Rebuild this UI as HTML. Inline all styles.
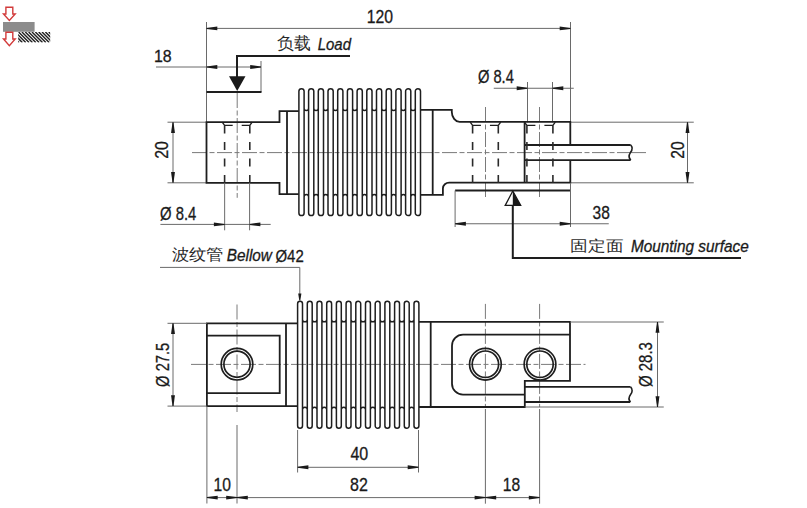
<!DOCTYPE html><html><head><meta charset="utf-8"><style>html,body{margin:0;padding:0;background:#fff;width:807px;height:508px;overflow:hidden}svg{display:block}text{font-family:"Liberation Sans",sans-serif}</style></head><body>
<svg width="807" height="508" viewBox="0 0 807 508">
<rect width="807" height="508" fill="#fff"/>
<rect x="3" y="22" width="31.6" height="9.8" fill="#8c8c8c"/>
<path d="M5.9,7.2 H12.8 V14 H15.2 L9.35,20.5 L3.5,14 H5.9 Z" fill="none" stroke="#d23a3a" stroke-width="1.4"/>
<path d="M5.9,32.2 H12.8 V39 H15.2 L9.35,45.6 L3.5,39 H5.9 Z" fill="none" stroke="#d23a3a" stroke-width="1.4"/>
<defs><clipPath id="hc"><rect x="18.2" y="32" width="32" height="10.5"/></clipPath></defs>
<path d="M8.55,32 L19.05,42.5 M11.900000000000002,32 L22.400000000000002,42.5 M15.250000000000002,32 L25.75,42.5 M18.6,32 L29.1,42.5 M21.950000000000003,32 L32.45,42.5 M25.3,32 L35.8,42.5 M28.650000000000002,32 L39.150000000000006,42.5 M32.0,32 L42.5,42.5 M35.35,32 L45.85,42.5 M38.7,32 L49.2,42.5 M42.05,32 L52.55,42.5 M45.400000000000006,32 L55.900000000000006,42.5 M48.75,32 L59.25,42.5 M52.1,32 L62.6,42.5 M55.45,32 L65.95,42.5 M58.800000000000004,32 L69.30000000000001,42.5 " stroke="#222" stroke-width="1.45" clip-path="url(#hc)"/>
<line x1="206.5" y1="22" x2="206.5" y2="122.2" stroke="#6a6a6a" stroke-width="1.0" />
<line x1="570.5" y1="22" x2="570.5" y2="122.2" stroke="#6a6a6a" stroke-width="1.0" />
<line x1="206.5" y1="28.4" x2="570.5" y2="28.4" stroke="#6a6a6a" stroke-width="1.0" />
<polygon points="206.5,27.9 217.3,26.45 217.3,30.349999999999998 206.5,28.9" fill="#1a1a1a"/>
<polygon points="570.5,27.9 559.7,26.45 559.7,30.349999999999998 570.5,28.9" fill="#1a1a1a"/>
<text x="366.80" y="23.42" font-size="17.80" textLength="26.32" lengthAdjust="spacingAndGlyphs" fill="#1a1a1a" stroke="#1a1a1a" stroke-width="0.3">120</text>
<line x1="156" y1="67" x2="261" y2="67" stroke="#6a6a6a" stroke-width="1.0" />
<line x1="261" y1="61" x2="261" y2="92" stroke="#6a6a6a" stroke-width="1.0" />
<polygon points="206.5,66.5 217.3,65.05 217.3,68.95 206.5,67.5" fill="#1a1a1a"/>
<polygon points="261,66.5 250.2,65.05 250.2,68.95 261,67.5" fill="#1a1a1a"/>
<text x="153.99" y="61.63" font-size="17.37" textLength="17.70" lengthAdjust="spacingAndGlyphs" fill="#1a1a1a" stroke="#1a1a1a" stroke-width="0.3">18</text>
<path d="M350,56 H237 V77" stroke="#1e1e1e" stroke-width="2" fill="none" />
<polygon points="229,76.2 245.5,76.2 237.2,91" fill="#1a1a1a"/>
<path d="M206.5,92 H261.5" stroke="#1e1e1e" stroke-width="2" fill="none" />
<text x="277.26" y="48.63" font-size="16.84" textLength="33.71" lengthAdjust="spacingAndGlyphs" fill="#2a2a2a" stroke="#2a2a2a" stroke-width="0">负载</text>
<text x="317.74" y="49.53" font-size="16.73" textLength="33.28" lengthAdjust="spacingAndGlyphs" font-style="italic" fill="#1a1a1a" stroke="#1a1a1a" stroke-width="0.3">Load</text>
<line x1="237.2" y1="93" x2="237.2" y2="197.8" stroke="#7a7a7a" stroke-width="1.0" stroke-dasharray="15 2.5 5 2.5" />
<line x1="485.5" y1="107" x2="485.5" y2="197.6" stroke="#7a7a7a" stroke-width="1.0" stroke-dasharray="15 2.5 5 2.5" />
<line x1="539.5" y1="107" x2="539.5" y2="197.6" stroke="#7a7a7a" stroke-width="1.0" stroke-dasharray="15 2.5 5 2.5" />
<line x1="192" y1="152.6" x2="631" y2="152.6" stroke="#7a7a7a" stroke-width="1.0" stroke-dasharray="15 2.5 5 2.5" />
<line x1="631" y1="152.6" x2="646" y2="152.6" stroke="#7a7a7a" stroke-width="1.0" />
<line x1="493.75" y1="88.25" x2="573.75" y2="88.25" stroke="#6a6a6a" stroke-width="1.0" />
<line x1="527.5" y1="82" x2="527.5" y2="122.2" stroke="#6a6a6a" stroke-width="1.0" />
<line x1="552.5" y1="82" x2="552.5" y2="122.2" stroke="#6a6a6a" stroke-width="1.0" />
<polygon points="527.5,87.75 516.7,86.3 516.7,90.2 527.5,88.75" fill="#1a1a1a"/>
<polygon points="552.5,87.75 563.3,86.3 563.3,90.2 552.5,88.75" fill="#1a1a1a"/>
<text x="477.89" y="83.23" font-size="18.06" textLength="35.94" lengthAdjust="spacingAndGlyphs" fill="#1a1a1a" stroke="#1a1a1a" stroke-width="0.3">Ø 8.4</text>
<line x1="167.5" y1="122.2" x2="206.5" y2="122.2" stroke="#6a6a6a" stroke-width="1.0" />
<line x1="167.5" y1="182.8" x2="206.5" y2="182.8" stroke="#6a6a6a" stroke-width="1.0" />
<line x1="173" y1="122.2" x2="173" y2="182.8" stroke="#6a6a6a" stroke-width="1.0" />
<polygon points="172.5,122.2 171.05,133.0 174.95,133.0 173.5,122.2" fill="#1a1a1a"/>
<polygon points="172.5,182.8 171.05,172.0 174.95,172.0 173.5,182.8" fill="#1a1a1a"/>
<text x="-0.79" y="0" font-size="18.36" textLength="17.61" lengthAdjust="spacingAndGlyphs" fill="#1a1a1a" stroke="#1a1a1a" stroke-width="0.3" transform="translate(167.52,158.00) rotate(-90)">20</text>
<line x1="570.5" y1="122.2" x2="693.75" y2="122.2" stroke="#6a6a6a" stroke-width="1.0" />
<line x1="570.5" y1="182.8" x2="693.75" y2="182.8" stroke="#6a6a6a" stroke-width="1.0" />
<line x1="687.5" y1="122.2" x2="687.5" y2="182.8" stroke="#6a6a6a" stroke-width="1.0" />
<polygon points="687.0,122.2 685.55,133.0 689.45,133.0 688.0,122.2" fill="#1a1a1a"/>
<polygon points="687.0,182.8 685.55,172.0 689.45,172.0 688.0,182.8" fill="#1a1a1a"/>
<text x="-0.78" y="0" font-size="18.08" textLength="17.29" lengthAdjust="spacingAndGlyphs" fill="#1a1a1a" stroke="#1a1a1a" stroke-width="0.3" transform="translate(683.82,158.00) rotate(-90)">20</text>
<path d="M298.8,111.2 H279.5 V122.2 H206.5 V182.8 H279.5 V194.2 H298.8" stroke="#1e1e1e" stroke-width="1.8" fill="none" />
<path d="M287,111.2 V194.2" stroke="#1e1e1e" stroke-width="1.8" fill="none" />
<path d="M420.5,109.8 H451.8 V112 A8,10 0 0 0 459.6,121.9 H570.3 V145 M570.3,160.1 V182.6 H449.2 A6.3,6 0 0 0 442.9,188.4 V194.9 H420.4" stroke="#1e1e1e" stroke-width="1.8" fill="none" />
<path d="M432.7,109.7 V194.9" stroke="#1e1e1e" stroke-width="1.8" fill="none" />
<path d="M524.6,122.2 V182.8" stroke="#1e1e1e" stroke-width="1.8" fill="none" />
<path d="M524.6,145 H630.7 M524.6,160.1 H630.5" stroke="#1e1e1e" stroke-width="1.8" fill="none" />
<path d="M630.7,145 C633.2,147.5 632,150.5 630.4,152.6 C628.8,155 628.8,158 630.8,160.1" stroke="#1e1e1e" stroke-width="1.6" fill="none" />
<path d="M298.90,213.00 V91.30 A2.6,2.6 0 0 1 304.10,91.30 V213.00 A2.6,2.6 0 0 1 298.90,213.00 Z M304.10,108.15 A2.25,2.25 0 0 0 308.60,108.15 M304.10,196.85 A2.25,2.25 0 0 1 308.60,196.85 M308.60,213.00 V91.30 A2.6,2.6 0 0 1 313.80,91.30 V213.00 A2.6,2.6 0 0 1 308.60,213.00 Z M313.80,108.15 A2.25,2.25 0 0 0 318.30,108.15 M313.80,196.85 A2.25,2.25 0 0 1 318.30,196.85 M318.30,213.00 V91.30 A2.6,2.6 0 0 1 323.50,91.30 V213.00 A2.6,2.6 0 0 1 318.30,213.00 Z M323.50,108.15 A2.25,2.25 0 0 0 328.00,108.15 M323.50,196.85 A2.25,2.25 0 0 1 328.00,196.85 M328.00,213.00 V91.30 A2.6,2.6 0 0 1 333.20,91.30 V213.00 A2.6,2.6 0 0 1 328.00,213.00 Z M333.20,108.15 A2.25,2.25 0 0 0 337.70,108.15 M333.20,196.85 A2.25,2.25 0 0 1 337.70,196.85 M337.70,213.00 V91.30 A2.6,2.6 0 0 1 342.90,91.30 V213.00 A2.6,2.6 0 0 1 337.70,213.00 Z M342.90,108.15 A2.25,2.25 0 0 0 347.40,108.15 M342.90,196.85 A2.25,2.25 0 0 1 347.40,196.85 M347.40,213.00 V91.30 A2.6,2.6 0 0 1 352.60,91.30 V213.00 A2.6,2.6 0 0 1 347.40,213.00 Z M352.60,108.15 A2.25,2.25 0 0 0 357.10,108.15 M352.60,196.85 A2.25,2.25 0 0 1 357.10,196.85 M357.10,213.00 V91.30 A2.6,2.6 0 0 1 362.30,91.30 V213.00 A2.6,2.6 0 0 1 357.10,213.00 Z M362.30,108.15 A2.25,2.25 0 0 0 366.80,108.15 M362.30,196.85 A2.25,2.25 0 0 1 366.80,196.85 M366.80,213.00 V91.30 A2.6,2.6 0 0 1 372.00,91.30 V213.00 A2.6,2.6 0 0 1 366.80,213.00 Z M372.00,108.15 A2.25,2.25 0 0 0 376.50,108.15 M372.00,196.85 A2.25,2.25 0 0 1 376.50,196.85 M376.50,213.00 V91.30 A2.6,2.6 0 0 1 381.70,91.30 V213.00 A2.6,2.6 0 0 1 376.50,213.00 Z M381.70,108.15 A2.25,2.25 0 0 0 386.20,108.15 M381.70,196.85 A2.25,2.25 0 0 1 386.20,196.85 M386.20,213.00 V91.30 A2.6,2.6 0 0 1 391.40,91.30 V213.00 A2.6,2.6 0 0 1 386.20,213.00 Z M391.40,108.15 A2.25,2.25 0 0 0 395.90,108.15 M391.40,196.85 A2.25,2.25 0 0 1 395.90,196.85 M395.90,213.00 V91.30 A2.6,2.6 0 0 1 401.10,91.30 V213.00 A2.6,2.6 0 0 1 395.90,213.00 Z M401.10,108.15 A2.25,2.25 0 0 0 405.60,108.15 M401.10,196.85 A2.25,2.25 0 0 1 405.60,196.85 M405.60,213.00 V91.30 A2.6,2.6 0 0 1 410.80,91.30 V213.00 A2.6,2.6 0 0 1 405.60,213.00 Z M410.80,108.15 A2.25,2.25 0 0 0 415.30,108.15 M410.80,196.85 A2.25,2.25 0 0 1 415.30,196.85 M415.30,213.00 V91.30 A2.6,2.6 0 0 1 420.50,91.30 V213.00 A2.6,2.6 0 0 1 415.30,213.00 Z " stroke="#1e1e1e" stroke-width="1.5" fill="none" />
<path d="M222.2,122.2 L224.6,125.4 H232.7 M241.7,125.4 H249.8 L252.20000000000002,122.2" stroke="#1e1e1e" stroke-width="1.4" fill="none" />
<line x1="224.6" y1="125.4" x2="224.6" y2="183" stroke="#2a2a2a" stroke-width="1.6" stroke-dasharray="8 8.5" />
<line x1="249.8" y1="125.4" x2="249.8" y2="183" stroke="#2a2a2a" stroke-width="1.6" stroke-dasharray="8 8.5" />
<path d="M470.20000000000005,122.2 L472.6,125.4 H480.95000000000005 M489.95000000000005,125.4 H498.3 L500.7,122.2" stroke="#1e1e1e" stroke-width="1.4" fill="none" />
<line x1="472.6" y1="125.4" x2="472.6" y2="183" stroke="#2a2a2a" stroke-width="1.6" stroke-dasharray="8 8.5" />
<line x1="498.3" y1="125.4" x2="498.3" y2="183" stroke="#2a2a2a" stroke-width="1.6" stroke-dasharray="8 8.5" />
<path d="M524.5,122.2 L526.9,125.4 H535.4 M544.4,125.4 H552.9 L555.3,122.2" stroke="#1e1e1e" stroke-width="1.4" fill="none" />
<line x1="526.9" y1="125.4" x2="526.9" y2="183" stroke="#2a2a2a" stroke-width="1.6" stroke-dasharray="8 8.5" />
<line x1="552.9" y1="125.4" x2="552.9" y2="183" stroke="#2a2a2a" stroke-width="1.6" stroke-dasharray="8 8.5" />
<line x1="160.4" y1="224.4" x2="270.7" y2="224.4" stroke="#6a6a6a" stroke-width="1.0" />
<line x1="224.65" y1="183" x2="224.65" y2="230.3" stroke="#6a6a6a" stroke-width="1.0" />
<line x1="249.6" y1="183" x2="249.6" y2="230.3" stroke="#6a6a6a" stroke-width="1.0" />
<polygon points="224.65,223.9 213.85,222.45000000000002 213.85,226.35 224.65,224.9" fill="#1a1a1a"/>
<polygon points="249.6,223.9 260.4,222.45000000000002 260.4,226.35 249.6,224.9" fill="#1a1a1a"/>
<text x="160.08" y="220.32" font-size="18.60" textLength="36.25" lengthAdjust="spacingAndGlyphs" fill="#1a1a1a" stroke="#1a1a1a" stroke-width="0.3">Ø 8.4</text>
<path d="M455.1,190.5 H570.5" stroke="#1e1e1e" stroke-width="2" fill="none" />
<line x1="455.1" y1="190.5" x2="455.1" y2="227" stroke="#6a6a6a" stroke-width="1.0" />
<line x1="570.5" y1="182.8" x2="570.5" y2="227" stroke="#6a6a6a" stroke-width="1.0" />
<line x1="455.1" y1="223.75" x2="608.75" y2="223.75" stroke="#6a6a6a" stroke-width="1.0" />
<polygon points="455.1,223.25 465.90000000000003,221.8 465.90000000000003,225.7 455.1,224.25" fill="#1a1a1a"/>
<polygon points="570.5,223.25 559.7,221.8 559.7,225.7 570.5,224.25" fill="#1a1a1a"/>
<text x="592.51" y="219.22" font-size="17.94" textLength="17.26" lengthAdjust="spacingAndGlyphs" fill="#1a1a1a" stroke="#1a1a1a" stroke-width="0.3">38</text>
<polygon points="512.8,191 505.2,205.4 520.7,205.4" fill="none" stroke="#1a1a1a" stroke-width="1.3"/>
<polygon points="512.8,191 512.8,205.4 520.7,205.4" fill="#1a1a1a"/>
<path d="M512.8,205.4 V258 H741" stroke="#1e1e1e" stroke-width="2" fill="none" />
<text x="570.22" y="251.44" font-size="14.94" textLength="53.02" lengthAdjust="spacingAndGlyphs" fill="#2a2a2a" stroke="#2a2a2a" stroke-width="0">固定面</text>
<text x="630.92" y="252.16" font-size="16.08" textLength="117.84" lengthAdjust="spacingAndGlyphs" font-style="italic" fill="#1a1a1a" stroke="#1a1a1a" stroke-width="0.3">Mounting surface</text>
<text x="171.54" y="260.23" font-size="16.35" textLength="51.96" lengthAdjust="spacingAndGlyphs" fill="#2a2a2a" stroke="#2a2a2a" stroke-width="0">波纹管</text>
<text x="226.72" y="261.14" font-size="15.78" textLength="45.24" lengthAdjust="spacingAndGlyphs" font-style="italic" fill="#1a1a1a" stroke="#1a1a1a" stroke-width="0.3">Bellow</text>
<text x="275.48" y="261.75" font-size="17.39" textLength="28.27" lengthAdjust="spacingAndGlyphs" fill="#1a1a1a" stroke="#1a1a1a" stroke-width="0.3">Ø42</text>
<line x1="160" y1="267.4" x2="299.8" y2="267.4" stroke="#6a6a6a" stroke-width="1.0" />
<line x1="299.8" y1="267.4" x2="299.8" y2="294" stroke="#6a6a6a" stroke-width="1.0" />
<polygon points="299.3,300.6 298.2,293.6 301.40000000000003,293.6 300.3,300.6" fill="#1a1a1a"/>
<line x1="237" y1="304.5" x2="237" y2="412" stroke="#7a7a7a" stroke-width="1.0" stroke-dasharray="15 2.5 5 2.5" />
<line x1="237" y1="425" x2="237" y2="503.5" stroke="#6a6a6a" stroke-width="1.0" />
<line x1="485.4" y1="303.9" x2="485.4" y2="407" stroke="#7a7a7a" stroke-width="1.0" stroke-dasharray="15 2.5 5 2.5" />
<line x1="539.6" y1="303.9" x2="539.6" y2="407" stroke="#7a7a7a" stroke-width="1.0" stroke-dasharray="15 2.5 5 2.5" />
<line x1="485.4" y1="409" x2="485.4" y2="503.7" stroke="#6a6a6a" stroke-width="1.0" />
<line x1="539.6" y1="409" x2="539.6" y2="503.7" stroke="#6a6a6a" stroke-width="1.0" />
<line x1="191" y1="364.4" x2="585.5" y2="364.4" stroke="#7a7a7a" stroke-width="1.0" stroke-dasharray="15 2.5 5 2.5" />
<path d="M297.6,323.3 H206.9 V406.1 H297.6" stroke="#1e1e1e" stroke-width="1.8" fill="none" />
<path d="M286,323.3 V406.1" stroke="#1e1e1e" stroke-width="1.8" fill="none" />
<path d="M206.9,335.7 H279.7 V393.1 H206.9" stroke="#1e1e1e" stroke-width="1.8" fill="none" />
<circle cx="237" cy="364.2" r="15.8" fill="none" stroke="#1e1e1e" stroke-width="1.7"/>
<circle cx="237" cy="364.2" r="13.1" fill="none" stroke="#1e1e1e" stroke-width="1.7"/>
<path d="M297.60,425.75 V303.75 A2.45,2.45 0 0 1 302.50,303.75 V425.75 A2.45,2.45 0 0 1 297.60,425.75 Z M302.50,319.40 A2.40,2.40 0 0 0 307.30,319.40 M302.50,409.60 A2.40,2.40 0 0 1 307.30,409.60 M307.30,425.75 V303.75 A2.45,2.45 0 0 1 312.20,303.75 V425.75 A2.45,2.45 0 0 1 307.30,425.75 Z M312.20,319.40 A2.40,2.40 0 0 0 317.00,319.40 M312.20,409.60 A2.40,2.40 0 0 1 317.00,409.60 M317.00,425.75 V303.75 A2.45,2.45 0 0 1 321.90,303.75 V425.75 A2.45,2.45 0 0 1 317.00,425.75 Z M321.90,319.40 A2.40,2.40 0 0 0 326.70,319.40 M321.90,409.60 A2.40,2.40 0 0 1 326.70,409.60 M326.70,425.75 V303.75 A2.45,2.45 0 0 1 331.60,303.75 V425.75 A2.45,2.45 0 0 1 326.70,425.75 Z M331.60,319.40 A2.40,2.40 0 0 0 336.40,319.40 M331.60,409.60 A2.40,2.40 0 0 1 336.40,409.60 M336.40,425.75 V303.75 A2.45,2.45 0 0 1 341.30,303.75 V425.75 A2.45,2.45 0 0 1 336.40,425.75 Z M341.30,319.40 A2.40,2.40 0 0 0 346.10,319.40 M341.30,409.60 A2.40,2.40 0 0 1 346.10,409.60 M346.10,425.75 V303.75 A2.45,2.45 0 0 1 351.00,303.75 V425.75 A2.45,2.45 0 0 1 346.10,425.75 Z M351.00,319.40 A2.40,2.40 0 0 0 355.80,319.40 M351.00,409.60 A2.40,2.40 0 0 1 355.80,409.60 M355.80,425.75 V303.75 A2.45,2.45 0 0 1 360.70,303.75 V425.75 A2.45,2.45 0 0 1 355.80,425.75 Z M360.70,319.40 A2.40,2.40 0 0 0 365.50,319.40 M360.70,409.60 A2.40,2.40 0 0 1 365.50,409.60 M365.50,425.75 V303.75 A2.45,2.45 0 0 1 370.40,303.75 V425.75 A2.45,2.45 0 0 1 365.50,425.75 Z M370.40,319.40 A2.40,2.40 0 0 0 375.20,319.40 M370.40,409.60 A2.40,2.40 0 0 1 375.20,409.60 M375.20,425.75 V303.75 A2.45,2.45 0 0 1 380.10,303.75 V425.75 A2.45,2.45 0 0 1 375.20,425.75 Z M380.10,319.40 A2.40,2.40 0 0 0 384.90,319.40 M380.10,409.60 A2.40,2.40 0 0 1 384.90,409.60 M384.90,425.75 V303.75 A2.45,2.45 0 0 1 389.80,303.75 V425.75 A2.45,2.45 0 0 1 384.90,425.75 Z M389.80,319.40 A2.40,2.40 0 0 0 394.60,319.40 M389.80,409.60 A2.40,2.40 0 0 1 394.60,409.60 M394.60,425.75 V303.75 A2.45,2.45 0 0 1 399.50,303.75 V425.75 A2.45,2.45 0 0 1 394.60,425.75 Z M399.50,319.40 A2.40,2.40 0 0 0 404.30,319.40 M399.50,409.60 A2.40,2.40 0 0 1 404.30,409.60 M404.30,425.75 V303.75 A2.45,2.45 0 0 1 409.20,303.75 V425.75 A2.45,2.45 0 0 1 404.30,425.75 Z M409.20,319.40 A2.40,2.40 0 0 0 414.00,319.40 M409.20,409.60 A2.40,2.40 0 0 1 414.00,409.60 M414.00,425.75 V303.75 A2.45,2.45 0 0 1 418.90,303.75 V425.75 A2.45,2.45 0 0 1 414.00,425.75 Z " stroke="#1e1e1e" stroke-width="1.5" fill="none" />
<path d="M419,321.9 H570 V380.8 H524.8 V407 H419" stroke="#1e1e1e" stroke-width="1.8" fill="none" />
<path d="M430.7,321.9 V407" stroke="#1e1e1e" stroke-width="1.8" fill="none" />
<path d="M570,334.7 H463 A11,11 0 0 0 452,345.7 V383.7 A11,11 0 0 0 463,394.7 H524.8" stroke="#1e1e1e" stroke-width="1.8" fill="none" />
<path d="M524.8,386.8 H630.5 M524.8,402 H630.2" stroke="#1e1e1e" stroke-width="1.8" fill="none" />
<path d="M630.5,386.8 C633,389 632.3,392.5 630.6,394.5 C628.8,397 628.6,400 630.5,402" stroke="#1e1e1e" stroke-width="1.6" fill="none" />
<circle cx="485.4" cy="364.2" r="15.85" fill="none" stroke="#1e1e1e" stroke-width="1.7"/>
<circle cx="485.4" cy="364.2" r="13.2" fill="none" stroke="#1e1e1e" stroke-width="1.7"/>
<circle cx="540" cy="364.2" r="15.85" fill="none" stroke="#1e1e1e" stroke-width="1.7"/>
<circle cx="540" cy="364.2" r="13.2" fill="none" stroke="#1e1e1e" stroke-width="1.7"/>
<line x1="167.5" y1="323.3" x2="206.9" y2="323.3" stroke="#6a6a6a" stroke-width="1.0" />
<line x1="167.5" y1="406.1" x2="206.9" y2="406.1" stroke="#6a6a6a" stroke-width="1.0" />
<line x1="173" y1="323.3" x2="173" y2="406.1" stroke="#6a6a6a" stroke-width="1.0" />
<polygon points="172.5,323.3 171.05,334.1 174.95,334.1 173.5,323.3" fill="#1a1a1a"/>
<polygon points="172.5,406.1 171.05,395.3 174.95,395.3 173.5,406.1" fill="#1a1a1a"/>
<text x="-0.52" y="0" font-size="19.27" textLength="44.23" lengthAdjust="spacingAndGlyphs" fill="#1a1a1a" stroke="#1a1a1a" stroke-width="0.3" transform="translate(168.60,386.40) rotate(-90)">Ø 27.5</text>
<line x1="570" y1="322" x2="663.75" y2="322" stroke="#6a6a6a" stroke-width="1.0" />
<line x1="524.8" y1="407" x2="663.75" y2="407" stroke="#6a6a6a" stroke-width="1.0" />
<line x1="657.5" y1="322" x2="657.5" y2="407" stroke="#6a6a6a" stroke-width="1.0" />
<polygon points="657.0,322 655.55,332.8 659.45,332.8 658.0,322" fill="#1a1a1a"/>
<polygon points="657.0,407 655.55,396.2 659.45,396.2 658.0,407" fill="#1a1a1a"/>
<text x="-0.52" y="0" font-size="18.73" textLength="44.78" lengthAdjust="spacingAndGlyphs" fill="#1a1a1a" stroke="#1a1a1a" stroke-width="0.3" transform="translate(652.41,386.40) rotate(-90)">Ø 28.3</text>
<line x1="297.6" y1="430" x2="297.6" y2="472.5" stroke="#6a6a6a" stroke-width="1.0" />
<line x1="418.5" y1="430" x2="418.5" y2="472.5" stroke="#6a6a6a" stroke-width="1.0" />
<line x1="297.6" y1="467.3" x2="418.5" y2="467.3" stroke="#6a6a6a" stroke-width="1.0" />
<polygon points="297.6,466.8 308.40000000000003,465.35 308.40000000000003,469.25 297.6,467.8" fill="#1a1a1a"/>
<polygon points="418.5,466.8 407.7,465.35 407.7,469.25 418.5,467.8" fill="#1a1a1a"/>
<text x="350.43" y="460.02" font-size="18.36" textLength="17.80" lengthAdjust="spacingAndGlyphs" fill="#1a1a1a" stroke="#1a1a1a" stroke-width="0.3">40</text>
<line x1="206.9" y1="406.1" x2="206.9" y2="503.5" stroke="#6a6a6a" stroke-width="1.0" />
<line x1="206.9" y1="497.6" x2="540" y2="497.6" stroke="#6a6a6a" stroke-width="1.0" />
<polygon points="206.9,497.1 217.70000000000002,495.65000000000003 217.70000000000002,499.55 206.9,498.1" fill="#1a1a1a"/>
<polygon points="237,497.1 226.2,495.65000000000003 226.2,499.55 237,498.1" fill="#1a1a1a"/>
<polygon points="237,497.1 247.8,495.65000000000003 247.8,499.55 237,498.1" fill="#1a1a1a"/>
<polygon points="485.4,497.1 474.59999999999997,495.65000000000003 474.59999999999997,499.55 485.4,498.1" fill="#1a1a1a"/>
<polygon points="485.4,497.1 496.2,495.65000000000003 496.2,499.55 485.4,498.1" fill="#1a1a1a"/>
<polygon points="539.6,497.1 528.8000000000001,495.65000000000003 528.8000000000001,499.55 539.6,498.1" fill="#1a1a1a"/>
<text x="213.61" y="491.31" font-size="18.64" textLength="17.40" lengthAdjust="spacingAndGlyphs" fill="#1a1a1a" stroke="#1a1a1a" stroke-width="0.3">10</text>
<text x="350.11" y="490.92" font-size="17.66" textLength="17.79" lengthAdjust="spacingAndGlyphs" fill="#1a1a1a" stroke="#1a1a1a" stroke-width="0.3">82</text>
<text x="502.81" y="491.32" font-size="18.22" textLength="17.36" lengthAdjust="spacingAndGlyphs" fill="#1a1a1a" stroke="#1a1a1a" stroke-width="0.3">18</text>
</svg></body></html>
